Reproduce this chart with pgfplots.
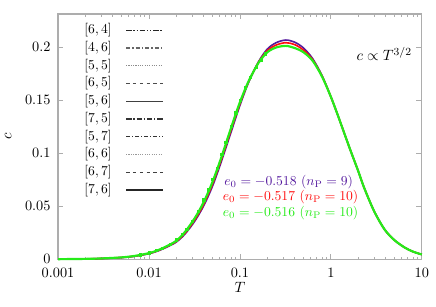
\documentclass[border=0pt]{standalone}
\usepackage{pgfplots}
\pgfplotsset{compat=1.18}
\definecolor{cblue}{rgb}{0.33,0.10,0.62}
\definecolor{cred}{rgb}{1.0,0.05,0.05}
\definecolor{cgreen}{rgb}{0.15,0.92,0.10}
\definecolor{axgray}{rgb}{0.68,0.68,0.68}
\begin{document}
\begin{tikzpicture}
\begin{axis}[
  scale only axis,
  width=267pt, height=180pt,
  xmode=log,
  xmin=0.001, xmax=10,
  ymin=0, ymax=0.231,
  ytick={0,0.05,0.1,0.15,0.2},
  yticklabels={0,0.05,0.1,0.15,0.2},
  xtick={0.001,0.01,0.1,1,10},
  xticklabels={0.001,0.01,0.1,1,10},
  tick label style={font=\fontsize{10.5}{12}\selectfont},
  xticklabel style={yshift=-2.5pt},
  yticklabel style={xshift=-2pt},
  tick align=inside,
  axis line style={axgray, line width=0.8pt},
  every tick/.style={axgray, line width=0.6pt},
  major tick length=4pt, minor tick length=2pt,
  xlabel={$T$}, ylabel={$c$},
  every axis y label/.style={at={(axis description cs:-0.137,0.5)}, rotate=90, anchor=center, font=\fontsize{11}{13}\selectfont},
  every axis x label/.style={at={(axis description cs:0.5,-0.114)}, anchor=center, font=\fontsize{11}{13}\selectfont},
  legend plot pos=right,
  legend style={draw=none, fill=none, at={(0.068,0.968)}, anchor=north west,
    inner sep=0pt, row sep=1pt, column sep=9pt,
    nodes={inner sep=1pt, text height=7.5pt, text depth=2.5pt}},
  legend cell align=right,
  legend image code/.code={\draw[#1] (0pt,0pt) -- (27pt,0pt);},
  clip=false,
]
\addlegendimage{black!85, line width=0.8pt, dash pattern=on 4pt off 1.3pt on 1pt off 1.3pt on 1pt off 1.3pt}
\addlegendentry{$[6,4]$}
\addlegendimage{black!60, line width=0.8pt, dash pattern=on 3pt off 1.5pt on 1pt off 1.5pt}
\addlegendentry{$[4,6]$}
\addlegendimage{black!45, line width=0.7pt, dash pattern=on 0.8pt off 0.9pt}
\addlegendentry{$[5,5]$}
\addlegendimage{black!70, line width=0.7pt, dash pattern=on 2.5pt off 2.5pt}
\addlegendentry{$[6,5]$}
\addlegendimage{black!75, line width=0.9pt}
\addlegendentry{$[5,6]$}
\addlegendimage{black!80, line width=1.3pt, dash pattern=on 4pt off 1.3pt on 1pt off 1.3pt}
\addlegendentry{$[7,5]$}
\addlegendimage{black!80, line width=1.3pt, dash pattern=on 3pt off 1.3pt on 1pt off 1.3pt}
\addlegendentry{$[5,7]$}
\addlegendimage{black!40, line width=0.7pt, dash pattern=on 0.8pt off 0.9pt}
\addlegendentry{$[6,6]$}
\addlegendimage{black!75, line width=0.7pt, dash pattern=on 2.5pt off 2.5pt}
\addlegendentry{$[6,7]$}
\addlegendimage{black!85, line width=1.3pt}
\addlegendentry{$[7,6]$}

% blue / purple
\addplot[cblue, line width=1.2pt, smooth, forget plot] coordinates {
(0.001,0.0001)(0.002,0.0003)(0.003,0.0007)(0.005,0.0016)(0.007,0.0029)
(0.01,0.0053)(0.0125,0.0078)(0.0158,0.0116)(0.02,0.0163)(0.025,0.0240)
(0.032,0.0362)(0.04,0.0505)(0.05,0.069)(0.063,0.093)(0.08,0.120)
(0.1,0.145)(0.125,0.167)(0.16,0.186)(0.2,0.198)(0.25,0.204)
(0.32,0.2065)(0.4,0.2045)(0.5,0.199)(0.63,0.189)(0.8,0.173)
(1.0,0.153)(1.2,0.135)(1.4,0.119)(1.66,0.1015)(2.0,0.083)(2.33,0.067)
(3.0,0.045)(3.9,0.028)(5.0,0.018)(6.5,0.011)(8.0,0.0072)(10,0.0045)};
% red
\addplot[cred, line width=1.2pt, smooth, forget plot] coordinates {
(0.001,0.0001)(0.002,0.00035)(0.003,0.00075)(0.005,0.0017)(0.007,0.0030)
(0.01,0.0055)(0.0125,0.0081)(0.0158,0.0120)(0.02,0.0168)(0.025,0.0248)
(0.032,0.0374)(0.04,0.052)(0.05,0.071)(0.063,0.095)(0.08,0.122)
(0.1,0.1465)(0.125,0.1675)(0.16,0.1855)(0.2,0.1965)(0.25,0.2018)
(0.32,0.204)(0.4,0.2022)(0.5,0.197)(0.63,0.188)(0.8,0.1725)
(1.0,0.153)(1.2,0.135)(1.4,0.119)(1.66,0.1015)(2.0,0.083)(2.33,0.067)
(3.0,0.045)(3.9,0.028)(5.0,0.018)(6.5,0.011)(8.0,0.0072)(10,0.0045)};
% green
\addplot[cgreen, line width=1.6pt, smooth, forget plot] coordinates {
(0.001,0.0001)(0.002,0.0004)(0.003,0.0008)(0.005,0.0018)(0.007,0.0032)
(0.01,0.0058)(0.0125,0.0085)(0.0158,0.0125)(0.02,0.0175)(0.025,0.026)
(0.032,0.039)(0.04,0.054)(0.05,0.073)(0.063,0.097)(0.08,0.124)
(0.1,0.148)(0.125,0.168)(0.16,0.185)(0.2,0.195)(0.25,0.1995)
(0.32,0.201)(0.4,0.199)(0.5,0.195)(0.63,0.187)(0.8,0.172)
(1.0,0.153)(1.2,0.135)(1.4,0.119)(1.66,0.1015)(2.0,0.083)(2.33,0.067)
(3.0,0.045)(3.9,0.028)(5.0,0.018)(6.5,0.011)(8.0,0.0072)(10,0.0045)};
% green points
\addplot[cgreen, only marks, mark=square*, mark size=0.8pt, forget plot] coordinates {
(0.008,0.0042)(0.01,0.0061)(0.012,0.0083)(0.014,0.0106)(0.017,0.0143)(0.02,0.0183)
(0.023,0.0232)(0.026,0.0285)(0.03,0.0355)(0.035,0.0455)(0.04,0.0560)(0.045,0.0655)
(0.05,0.0750)(0.056,0.0860)(0.063,0.0990)(0.07,0.1100)(0.08,0.1255)(0.09,0.1380)
(0.1,0.1495)(0.115,0.1615)(0.13,0.1715)(0.15,0.1810)(0.17,0.1880)(0.19,0.1935)};

\node[text=cblue] at (axis cs:0.343,0.0726) {$e_0=-0.518\ (n_{\mathrm{P}}=9)$};
\node[text=cred] at (axis cs:0.36,0.0585) {$e_0=-0.517\ (n_{\mathrm{P}}=10)$};
\node[text=cgreen] at (axis cs:0.36,0.0434) {$e_0=-0.516\ (n_{\mathrm{P}}=10)$};
\node[font=\fontsize{11}{13}\selectfont] at (axis cs:3.85,0.1934) {$c\propto T^{3/2}$};
\path (rel axis cs:0,0) ++(-42.6pt,-34.5pt) rectangle ++(320pt,224.8pt);
\end{axis}
\end{tikzpicture}
\end{document}
